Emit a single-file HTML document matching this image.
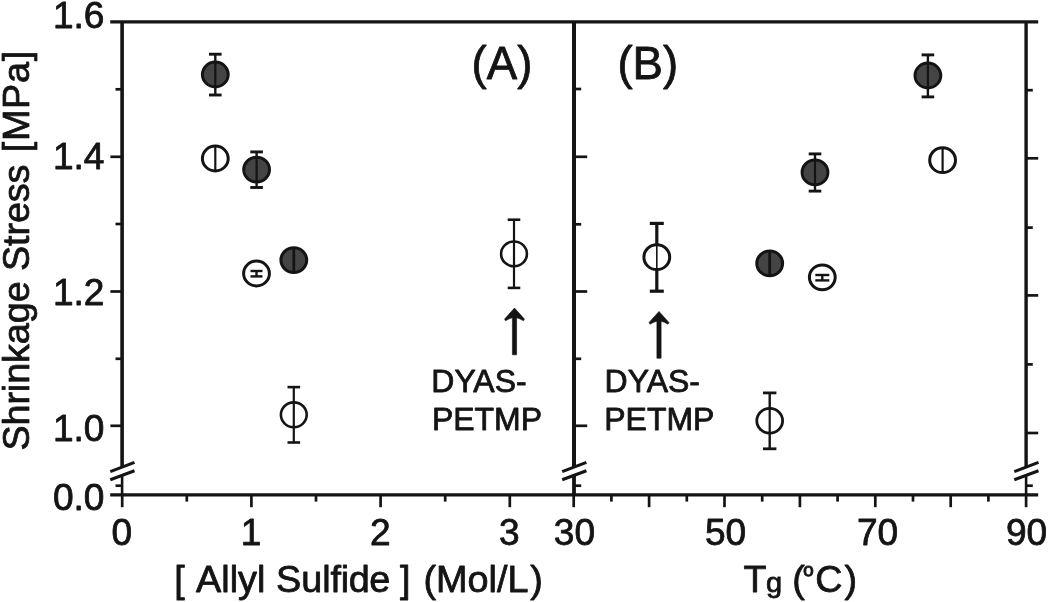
<!DOCTYPE html>
<html lang="en">
<head>
<meta charset="utf-8">
<title>Shrinkage Stress vs Allyl Sulfide concentration and Tg</title>
<style>
html,body{margin:0;padding:0;background:#fff;}
body{width:1050px;height:602px;overflow:hidden;font-family:"Liberation Sans",Arial,sans-serif;}
svg{display:block;filter:blur(0.7px);}
</style>
</head>
<body>
<svg width="1050" height="602" viewBox="0 0 1050 602">
<rect x="0" y="0" width="1050" height="602" fill="#ffffff"/>
<g stroke="#141414" fill="none" stroke-linecap="butt">
<line x1="110.2" y1="21.9" x2="1038.2" y2="21.9" stroke-width="3.3"/>
<line x1="110.2" y1="494.9" x2="1038.2" y2="494.9" stroke-width="3.3"/>
<line x1="122.1" y1="20.9" x2="122.1" y2="470" stroke-width="3.6"/>
<line x1="122.1" y1="470" x2="122.1" y2="495.9" stroke-width="2.6"/>
<line x1="574.0" y1="20.9" x2="574.0" y2="470" stroke-width="4.0"/>
<line x1="574.0" y1="470" x2="574.0" y2="495.9" stroke-width="3.8"/>
<line x1="1026.1" y1="20.9" x2="1026.1" y2="470" stroke-width="3.4"/>
<line x1="1026.1" y1="470" x2="1026.1" y2="495.9" stroke-width="2.6"/>
<line x1="110.4" y1="156.8" x2="122.1" y2="156.8" stroke-width="2.7"/>
<line x1="110.4" y1="291.5" x2="122.1" y2="291.5" stroke-width="2.7"/>
<line x1="110.4" y1="425.8" x2="122.1" y2="425.8" stroke-width="2.7"/>
<line x1="115.5" y1="89.3" x2="122.1" y2="89.3" stroke-width="2.7"/>
<line x1="115.5" y1="224.0" x2="122.1" y2="224.0" stroke-width="2.7"/>
<line x1="115.5" y1="358.8" x2="122.1" y2="358.8" stroke-width="2.7"/>
<line x1="115.5" y1="485.7" x2="122.1" y2="485.7" stroke-width="2.7"/>
<line x1="574.0" y1="156.8" x2="587.2" y2="156.8" stroke-width="2.7"/>
<line x1="574.0" y1="291.5" x2="587.2" y2="291.5" stroke-width="2.7"/>
<line x1="574.0" y1="425.8" x2="587.2" y2="425.8" stroke-width="2.7"/>
<line x1="574.0" y1="89.0" x2="581.2" y2="89.0" stroke-width="2.7"/>
<line x1="574.0" y1="224.3" x2="581.2" y2="224.3" stroke-width="2.7"/>
<line x1="574.0" y1="358.8" x2="581.2" y2="358.8" stroke-width="2.7"/>
<line x1="574.0" y1="485.7" x2="581.2" y2="485.7" stroke-width="2.7"/>
<line x1="1026.1" y1="158.3" x2="1038.2" y2="158.3" stroke-width="2.7"/>
<line x1="1026.1" y1="295.4" x2="1038.2" y2="295.4" stroke-width="2.7"/>
<line x1="1026.1" y1="433.0" x2="1038.2" y2="433.0" stroke-width="2.7"/>
<line x1="1026.1" y1="90.2" x2="1032.8" y2="90.2" stroke-width="2.7"/>
<line x1="1026.1" y1="227.6" x2="1032.8" y2="227.6" stroke-width="2.7"/>
<line x1="1026.1" y1="364.4" x2="1032.8" y2="364.4" stroke-width="2.7"/>
<line x1="1026.1" y1="485.7" x2="1032.8" y2="485.7" stroke-width="2.7"/>
<line x1="122.20" y1="494.9" x2="122.20" y2="507.2" stroke-width="2.7"/>
<line x1="186.80" y1="494.9" x2="186.80" y2="501.6" stroke-width="2.7"/>
<line x1="251.40" y1="494.9" x2="251.40" y2="507.2" stroke-width="2.7"/>
<line x1="316.00" y1="494.9" x2="316.00" y2="501.6" stroke-width="2.7"/>
<line x1="380.60" y1="494.9" x2="380.60" y2="507.2" stroke-width="2.7"/>
<line x1="445.20" y1="494.9" x2="445.20" y2="501.6" stroke-width="2.7"/>
<line x1="509.80" y1="494.9" x2="509.80" y2="507.2" stroke-width="2.7"/>
<line x1="573.70" y1="494.9" x2="573.70" y2="507.2" stroke-width="2.7"/>
<line x1="611.40" y1="494.9" x2="611.40" y2="501.6" stroke-width="2.7"/>
<line x1="649.10" y1="494.9" x2="649.10" y2="507.2" stroke-width="2.7"/>
<line x1="686.80" y1="494.9" x2="686.80" y2="501.6" stroke-width="2.7"/>
<line x1="724.50" y1="494.9" x2="724.50" y2="507.2" stroke-width="2.7"/>
<line x1="762.20" y1="494.9" x2="762.20" y2="501.6" stroke-width="2.7"/>
<line x1="799.90" y1="494.9" x2="799.90" y2="507.2" stroke-width="2.7"/>
<line x1="837.60" y1="494.9" x2="837.60" y2="501.6" stroke-width="2.7"/>
<line x1="875.30" y1="494.9" x2="875.30" y2="507.2" stroke-width="2.7"/>
<line x1="913.00" y1="494.9" x2="913.00" y2="501.6" stroke-width="2.7"/>
<line x1="950.70" y1="494.9" x2="950.70" y2="507.2" stroke-width="2.7"/>
<line x1="988.40" y1="494.9" x2="988.40" y2="501.6" stroke-width="2.7"/>
<line x1="1026.10" y1="494.9" x2="1026.10" y2="507.2" stroke-width="2.7"/>
<polygon points="110.3,471.6 134.5,462.4 134.5,470.8 110.3,479.7" fill="#fff" stroke="none"/>
<line x1="110.3" y1="471.6" x2="134.5" y2="462.4" stroke-width="3.1"/>
<line x1="110.3" y1="479.7" x2="134.5" y2="470.8" stroke-width="3.1"/>
<polygon points="562.2,471.6 586.4,462.4 586.4,470.8 562.2,479.7" fill="#fff" stroke="none"/>
<line x1="562.2" y1="471.6" x2="586.4" y2="462.4" stroke-width="3.1"/>
<line x1="562.2" y1="479.7" x2="586.4" y2="470.8" stroke-width="3.1"/>
<polygon points="1014.3,471.6 1038.5,462.4 1038.5,470.8 1014.3,479.7" fill="#fff" stroke="none"/>
<line x1="1014.3" y1="471.6" x2="1038.5" y2="462.4" stroke-width="3.1"/>
<line x1="1014.3" y1="479.7" x2="1038.5" y2="470.8" stroke-width="3.1"/>
</g>
<g stroke="#141414" stroke-linecap="butt"><line x1="215.3" y1="54.2" x2="215.3" y2="95.0" stroke-width="2.4"/><line x1="209.0" y1="54.2" x2="221.60000000000002" y2="54.2" stroke-width="2.9"/><line x1="209.0" y1="95.0" x2="221.60000000000002" y2="95.0" stroke-width="2.9"/><ellipse cx="215.3" cy="74.5" rx="12.9" ry="12.4" fill="#444444" stroke-width="3.0"/><line x1="215.3" y1="62.1" x2="215.3" y2="86.9" stroke-width="2.2"/></g>
<g stroke="#141414" stroke-linecap="butt"><ellipse cx="215.3" cy="158.5" rx="12.9" ry="12.4" fill="#ffffff" stroke-width="3.0"/><line x1="215.3" y1="146.1" x2="215.3" y2="170.9" stroke-width="2.2"/></g>
<g stroke="#141414" stroke-linecap="butt"><line x1="256.6" y1="151.9" x2="256.6" y2="187.5" stroke-width="2.4"/><line x1="250.3" y1="151.9" x2="262.90000000000003" y2="151.9" stroke-width="2.9"/><line x1="250.3" y1="187.5" x2="262.90000000000003" y2="187.5" stroke-width="2.9"/><ellipse cx="256.6" cy="169.6" rx="12.9" ry="12.4" fill="#444444" stroke-width="3.0"/><line x1="256.6" y1="157.2" x2="256.6" y2="182.0" stroke-width="2.2"/></g>
<g stroke="#141414"><ellipse cx="256.5" cy="273.5" rx="12.9" ry="12.4" fill="#fff" stroke-width="3.0"/><line x1="256.5" y1="271.0" x2="256.5" y2="276.4" stroke-width="2.4"/><line x1="250.5" y1="271.0" x2="262.5" y2="271.0" stroke-width="2.4"/><line x1="250.5" y1="276.4" x2="262.5" y2="276.4" stroke-width="2.4"/></g>
<g stroke="#141414" stroke-linecap="butt"><ellipse cx="293.8" cy="260.1" rx="12.9" ry="12.4" fill="#444444" stroke-width="3.0"/><line x1="293.8" y1="247.70000000000002" x2="293.8" y2="272.5" stroke-width="2.8"/></g>
<g stroke="#141414" stroke-linecap="butt"><line x1="293.8" y1="387.1" x2="293.8" y2="442.5" stroke-width="2.2"/><line x1="287.5" y1="387.1" x2="300.1" y2="387.1" stroke-width="2.6"/><line x1="287.5" y1="442.5" x2="300.1" y2="442.5" stroke-width="2.6"/><ellipse cx="293.8" cy="414.8" rx="12.9" ry="12.4" fill="#ffffff" stroke-width="2.6"/><line x1="293.8" y1="402.40000000000003" x2="293.8" y2="427.2" stroke-width="2.2"/></g>
<g stroke="#141414" stroke-linecap="butt"><line x1="514.0" y1="219.7" x2="514.0" y2="287.9" stroke-width="2.2"/><line x1="507.7" y1="219.7" x2="520.3" y2="219.7" stroke-width="2.6"/><line x1="507.7" y1="287.9" x2="520.3" y2="287.9" stroke-width="2.6"/><ellipse cx="514.0" cy="253.9" rx="12.9" ry="12.4" fill="#ffffff" stroke-width="2.6"/><line x1="514.0" y1="241.5" x2="514.0" y2="266.3" stroke-width="2.2"/></g>
<g stroke="#141414" stroke-linecap="butt"><line x1="927.9" y1="54.9" x2="927.9" y2="96.9" stroke-width="2.4"/><line x1="921.6" y1="54.9" x2="934.1999999999999" y2="54.9" stroke-width="2.9"/><line x1="921.6" y1="96.9" x2="934.1999999999999" y2="96.9" stroke-width="2.9"/><ellipse cx="927.9" cy="75.5" rx="12.9" ry="12.4" fill="#444444" stroke-width="3.0"/><line x1="927.9" y1="63.1" x2="927.9" y2="87.9" stroke-width="2.2"/></g>
<g stroke="#141414" stroke-linecap="butt"><ellipse cx="942.6" cy="160.2" rx="12.9" ry="12.4" fill="#ffffff" stroke-width="3.0"/><line x1="942.6" y1="147.79999999999998" x2="942.6" y2="172.6" stroke-width="2.2"/></g>
<g stroke="#141414" stroke-linecap="butt"><line x1="815.0" y1="153.9" x2="815.0" y2="191.1" stroke-width="2.4"/><line x1="808.7" y1="153.9" x2="821.3" y2="153.9" stroke-width="2.9"/><line x1="808.7" y1="191.1" x2="821.3" y2="191.1" stroke-width="2.9"/><ellipse cx="815.0" cy="172.4" rx="12.9" ry="12.4" fill="#444444" stroke-width="3.0"/><line x1="815.0" y1="160.0" x2="815.0" y2="184.8" stroke-width="2.2"/></g>
<g stroke="#141414"><ellipse cx="822.3" cy="277.3" rx="12.9" ry="12.4" fill="#fff" stroke-width="3.0"/><line x1="822.3" y1="275.0" x2="822.3" y2="280.4" stroke-width="2.4"/><line x1="815.3" y1="275.0" x2="829.3" y2="275.0" stroke-width="2.4"/><line x1="815.3" y1="280.4" x2="829.3" y2="280.4" stroke-width="2.4"/></g>
<g stroke="#141414" stroke-linecap="butt"><ellipse cx="769.7" cy="263.4" rx="12.9" ry="12.4" fill="#444444" stroke-width="3.0"/><line x1="769.7" y1="250.99999999999997" x2="769.7" y2="275.79999999999995" stroke-width="2.8"/></g>
<g stroke="#141414" stroke-linecap="butt"><line x1="769.7" y1="392.9" x2="769.7" y2="448.8" stroke-width="2.4"/><line x1="763.0" y1="392.9" x2="776.4000000000001" y2="392.9" stroke-width="2.8"/><line x1="763.0" y1="448.8" x2="776.4000000000001" y2="448.8" stroke-width="2.8"/><ellipse cx="769.7" cy="420.7" rx="12.9" ry="12.4" fill="#ffffff" stroke-width="2.8"/><line x1="769.7" y1="408.3" x2="769.7" y2="433.09999999999997" stroke-width="2.2"/></g>
<g stroke="#141414" stroke-linecap="butt"><line x1="656.8" y1="223.4" x2="656.8" y2="291.2" stroke-width="3.2"/><line x1="649.8" y1="223.4" x2="663.8" y2="223.4" stroke-width="3.2"/><line x1="649.8" y1="291.2" x2="663.8" y2="291.2" stroke-width="3.2"/><ellipse cx="656.8" cy="257.2" rx="12.9" ry="12.4" fill="#ffffff" stroke-width="3.0"/><line x1="656.8" y1="244.79999999999998" x2="656.8" y2="269.59999999999997" stroke-width="1.6"/></g>
<path d="M514.5,308.0 L524.4,319.0 L523.5,320.8 Q519.5,318.4 516.6,317.8 L516.6,354.8 L512.4,354.8 L512.4,317.8 Q509.5,318.4 505.5,320.8 L504.6,319.0 Z" fill="#141414" stroke="#141414" stroke-width="0.6" stroke-linejoin="round"/>
<path d="M659.0,311.4 L668.9,322.4 L668.0,324.2 Q664.0,321.79999999999995 661.1,321.2 L661.1,358.2 L656.9,358.2 L656.9,321.2 Q654.0,321.79999999999995 650.0,324.2 L649.1,322.4 Z" fill="#141414" stroke="#141414" stroke-width="0.6" stroke-linejoin="round"/>
<text transform="translate(104.5,28.0) scale(1,1.02)" font-size="37.1" text-anchor="end" fill="#141414" stroke="#141414" stroke-width="0.8" stroke-linejoin="round" font-family="Liberation Sans, Arial, sans-serif" >1.6</text>
<text transform="translate(104.5,168.8) scale(1,1.02)" font-size="37.1" text-anchor="end" fill="#141414" stroke="#141414" stroke-width="0.8" stroke-linejoin="round" font-family="Liberation Sans, Arial, sans-serif" >1.4</text>
<text transform="translate(104.5,305.0) scale(1,1.02)" font-size="37.1" text-anchor="end" fill="#141414" stroke="#141414" stroke-width="0.8" stroke-linejoin="round" font-family="Liberation Sans, Arial, sans-serif" >1.2</text>
<text transform="translate(104.5,441.4) scale(1,1.02)" font-size="37.1" text-anchor="end" fill="#141414" stroke="#141414" stroke-width="0.8" stroke-linejoin="round" font-family="Liberation Sans, Arial, sans-serif" >1.0</text>
<text transform="translate(104.5,510.0) scale(1,1.02)" font-size="37.1" text-anchor="end" fill="#141414" stroke="#141414" stroke-width="0.8" stroke-linejoin="round" font-family="Liberation Sans, Arial, sans-serif" >0.0</text>
<text transform="translate(121.8,545.2) scale(1,1.02)" font-size="37.1" text-anchor="middle" fill="#141414" stroke="#141414" stroke-width="0.8" stroke-linejoin="round" font-family="Liberation Sans, Arial, sans-serif" >0</text>
<text transform="translate(251.0,545.2) scale(1,1.02)" font-size="37.1" text-anchor="middle" fill="#141414" stroke="#141414" stroke-width="0.8" stroke-linejoin="round" font-family="Liberation Sans, Arial, sans-serif" >1</text>
<text transform="translate(380.2,545.2) scale(1,1.02)" font-size="37.1" text-anchor="middle" fill="#141414" stroke="#141414" stroke-width="0.8" stroke-linejoin="round" font-family="Liberation Sans, Arial, sans-serif" >2</text>
<text transform="translate(509.4,545.2) scale(1,1.02)" font-size="37.1" text-anchor="middle" fill="#141414" stroke="#141414" stroke-width="0.8" stroke-linejoin="round" font-family="Liberation Sans, Arial, sans-serif" >3</text>
<text transform="translate(574.5,545.2) scale(1,1.02)" font-size="37.1" text-anchor="middle" fill="#141414" stroke="#141414" stroke-width="0.8" stroke-linejoin="round" font-family="Liberation Sans, Arial, sans-serif" >30</text>
<text transform="translate(725.6,545.2) scale(1,1.02)" font-size="37.1" text-anchor="middle" fill="#141414" stroke="#141414" stroke-width="0.8" stroke-linejoin="round" font-family="Liberation Sans, Arial, sans-serif" >50</text>
<text transform="translate(877.6,545.2) scale(1,1.02)" font-size="37.1" text-anchor="middle" fill="#141414" stroke="#141414" stroke-width="0.8" stroke-linejoin="round" font-family="Liberation Sans, Arial, sans-serif" >70</text>
<text transform="translate(1026.6,545.2) scale(1,1.02)" font-size="37.1" text-anchor="middle" fill="#141414" stroke="#141414" stroke-width="0.8" stroke-linejoin="round" font-family="Liberation Sans, Arial, sans-serif" >90</text>
<text transform="translate(174.2,591.6) scale(1,0.975)" font-size="37.8" text-anchor="start" fill="#141414" stroke="#141414" stroke-width="0.8" stroke-linejoin="round" font-family="Liberation Sans, Arial, sans-serif" >[<tspan dx="3"> Allyl Sul</tspan><tspan letter-spacing="-0.4">fide ]</tspan><tspan dx="2.8"> (Mol/L</tspan><tspan dx="1.9">)</tspan></text>
<text transform="translate(743.6,592.3) scale(1,0.98)" font-size="37.7" text-anchor="start" fill="#141414" stroke="#141414" stroke-width="0.8" stroke-linejoin="round" font-family="Liberation Sans, Arial, sans-serif" >T<tspan font-size="29" dx="-0.5">g</tspan><tspan dx="-0.4"> (</tspan><tspan font-size="27" dx="-1.3" dy="-7.7">º</tspan><tspan dx="1.9" dy="7.7">C</tspan><tspan dx="2.0">)</tspan></text>
<text transform="translate(29.4,450.6) rotate(-90) scale(1,1.0)" font-size="37.8" text-anchor="start" fill="#141414" stroke="#141414" stroke-width="0.8" stroke-linejoin="round" font-family="Liberation Sans, Arial, sans-serif" ><tspan letter-spacing="-0.115">Shrinkage Stress </tspan><tspan dx="1.95" letter-spacing="0.7">[MPa]</tspan></text>
<text transform="translate(471.6,78.9) scale(1,1.02)" font-size="45.6" text-anchor="start" fill="#141414" stroke="#141414" stroke-width="0.8" stroke-linejoin="round" font-family="Liberation Sans, Arial, sans-serif" >(A)</text>
<text transform="translate(617.4,78.9) scale(1,1.02)" font-size="45.6" text-anchor="start" fill="#141414" stroke="#141414" stroke-width="0.8" stroke-linejoin="round" font-family="Liberation Sans, Arial, sans-serif" >(B)</text>
<text transform="translate(431.3,392.2) scale(1,0.975)" font-size="32.0" text-anchor="start" fill="#141414" stroke="#141414" stroke-width="0.8" stroke-linejoin="round" font-family="Liberation Sans, Arial, sans-serif" >DYAS-</text>
<text transform="translate(431.9,430.0) scale(1,0.975)" font-size="32.0" text-anchor="start" fill="#141414" stroke="#141414" stroke-width="0.8" stroke-linejoin="round" font-family="Liberation Sans, Arial, sans-serif" >PETMP</text>
<text transform="translate(604.6,392.2) scale(1,0.975)" font-size="32.0" text-anchor="start" fill="#141414" stroke="#141414" stroke-width="0.8" stroke-linejoin="round" font-family="Liberation Sans, Arial, sans-serif" >DYAS-</text>
<text transform="translate(604.2,430.0) scale(1,0.975)" font-size="32.0" text-anchor="start" fill="#141414" stroke="#141414" stroke-width="0.8" stroke-linejoin="round" font-family="Liberation Sans, Arial, sans-serif" >PETMP</text>
</svg>
</body>
</html>
